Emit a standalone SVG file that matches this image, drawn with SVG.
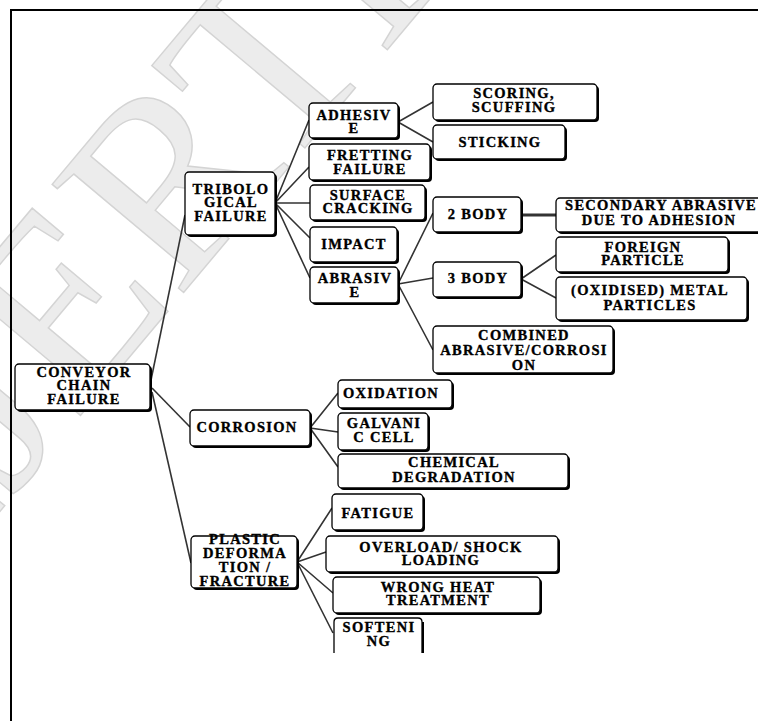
<svg xmlns="http://www.w3.org/2000/svg" width="758" height="721" viewBox="0 0 758 721">
<style>
.sh{fill:#000}
.bx{fill:#fff;stroke:#000;stroke-width:1.3}
.t{font-family:"Liberation Serif","Times New Roman",serif;font-weight:bold;font-size:14.5px;letter-spacing:1.3px;text-anchor:middle;fill:#000;stroke:#000;stroke-width:0.35}
.c{stroke:#333;stroke-width:1.6;fill:none}
.wm{font-family:"Liberation Serif",serif;font-size:260px;fill:#ececec;stroke:#d4d4d4;stroke-width:1.5}
</style>
<rect width="758" height="721" fill="#fff"/>
<g id="watermark">
<text class="wm" transform="translate(-45,565) rotate(-50)">IJERTIJERT</text>
</g>
<path d="M11,721 V10 H758" fill="none" stroke="#000" stroke-width="2"/>
<g id="connectors">
<path class="c" d="M151,380 L185,215"/>
<path class="c" d="M152,388 L190,427"/>
<path class="c" d="M152,392 L191,563"/>
<path class="c" d="M275,203 L309,120 M275,203 L309,167 M275,203 L310,203 M275,203 L310,238 M275,203 L310,278"/>
<path class="c" d="M398,122 L433,102 M398,122 L433,142"/>
<path class="c" d="M398,284 L433,213 M398,284 L433,278 M398,284 L433,350"/>
<path class="c" d="M521,215 L556,215" style="stroke-width:3"/>
<path class="c" d="M521,279 L556,255 M521,279 L556,298"/>
<path class="c" d="M310,428 L338,393 M310,428 L338,432 M310,428 L338,467"/>
<path class="c" d="M297,562 L332,508 M297,562 L326,552 M297,562 L333,593 M297,562 L333,633"/>
</g>
<g id="conveyor"><rect class="sh" x="17" y="366" width="135" height="46" rx="4"/><rect class="bx" x="15" y="364" width="135" height="46" rx="4"/>
<text class="t" x="84" y="377">CONVEYOR</text><text class="t" x="84" y="390">CHAIN</text><text class="t" x="84" y="404">FAILURE</text></g>
<g id="tribological"><rect class="sh" x="187" y="174" width="90" height="63" rx="4"/><rect class="bx" x="185" y="172" width="90" height="63" rx="4"/>
<text class="t" x="231" y="194">TRIBOLO</text><text class="t" x="231" y="207">GICAL</text><text class="t" x="231" y="221">FAILURE</text></g>
<g id="adhesive"><rect class="sh" x="311" y="105" width="89" height="35" rx="4"/><rect class="bx" x="309" y="103" width="89" height="35" rx="4"/>
<text class="t" x="354" y="120">ADHESIV</text><text class="t" x="354" y="133">E</text></g>
<g id="fretting"><rect class="sh" x="311" y="146" width="121" height="36" rx="4"/><rect class="bx" x="309" y="144" width="121" height="36" rx="4"/>
<text class="t" x="370" y="160">FRETTING</text><text class="t" x="370" y="174">FAILURE</text></g>
<g id="surface"><rect class="sh" x="312" y="187" width="115" height="35" rx="4"/><rect class="bx" x="310" y="185" width="115" height="35" rx="4"/>
<text class="t" x="368" y="200">SURFACE</text><text class="t" x="368" y="213">CRACKING</text></g>
<g id="impact"><rect class="sh" x="312" y="229" width="87" height="35" rx="4"/><rect class="bx" x="310" y="227" width="87" height="35" rx="4"/>
<text class="t" x="354" y="249">IMPACT</text></g>
<g id="abrasive"><rect class="sh" x="312" y="269" width="88" height="36" rx="4"/><rect class="bx" x="310" y="267" width="88" height="36" rx="4"/>
<text class="t" x="355" y="283">ABRASIV</text><text class="t" x="355" y="297">E</text></g>
<g id="scoring"><rect class="sh" x="435" y="86" width="164" height="36" rx="4"/><rect class="bx" x="433" y="84" width="164" height="36" rx="4"/>
<text class="t" x="514" y="98">SCORING,</text><text class="t" x="514" y="112">SCUFFING</text></g>
<g id="sticking"><rect class="sh" x="435" y="127" width="132" height="34" rx="4"/><rect class="bx" x="433" y="125" width="132" height="34" rx="4"/>
<text class="t" x="500" y="147">STICKING</text></g>
<g id="body2"><rect class="sh" x="435" y="199" width="88" height="35" rx="4"/><rect class="bx" x="433" y="197" width="88" height="35" rx="4"/>
<text class="t" x="478" y="219">2 BODY</text></g>
<g id="secondary"><rect class="sh" x="558" y="200" width="210" height="34" rx="4"/><rect class="bx" x="556" y="198" width="210" height="34" rx="4"/>
<text class="t" x="661" y="210">SECONDARY ABRASIVE</text><text class="t" x="659" y="225">DUE TO ADHESION</text></g>
<g id="foreign"><rect class="sh" x="558" y="239" width="172" height="35" rx="4"/><rect class="bx" x="556" y="237" width="172" height="35" rx="4"/>
<text class="t" x="643" y="252">FOREIGN</text><text class="t" x="643" y="265">PARTICLE</text></g>
<g id="oxidised"><rect class="sh" x="558" y="279" width="191" height="43" rx="4"/><rect class="bx" x="556" y="277" width="191" height="43" rx="4"/>
<text class="t" x="650" y="295">(OXIDISED) METAL</text><text class="t" x="650" y="310">PARTICLES</text></g>
<g id="body3"><rect class="sh" x="435" y="264" width="88" height="35" rx="4"/><rect class="bx" x="433" y="262" width="88" height="35" rx="4"/>
<text class="t" x="478" y="283">3 BODY</text></g>
<g id="combined"><rect class="sh" x="435" y="328" width="180" height="47" rx="4"/><rect class="bx" x="433" y="326" width="180" height="47" rx="4"/>
<text class="t" x="524" y="340">COMBINED</text><text class="t" x="524" y="355">ABRASIVE/CORROSI</text><text class="t" x="524" y="370">ON</text></g>
<g id="corrosion"><rect class="sh" x="192" y="412" width="120" height="36" rx="4"/><rect class="bx" x="190" y="410" width="120" height="36" rx="4"/>
<text class="t" x="247" y="432">CORROSION</text></g>
<g id="oxidation"><rect class="sh" x="340" y="382" width="114" height="28" rx="4"/><rect class="bx" x="338" y="380" width="114" height="28" rx="4"/>
<text class="t" x="391" y="398">OXIDATION</text></g>
<g id="galvanic"><rect class="sh" x="340" y="415" width="90" height="37" rx="4"/><rect class="bx" x="338" y="413" width="90" height="37" rx="4"/>
<text class="t" x="384" y="428">GALVANI</text><text class="t" x="384" y="442">C CELL</text></g>
<g id="chemical"><rect class="sh" x="340" y="456" width="230" height="34" rx="4"/><rect class="bx" x="338" y="454" width="230" height="34" rx="4"/>
<text class="t" x="454" y="467">CHEMICAL</text><text class="t" x="454" y="482">DEGRADATION</text></g>
<g id="plastic"><rect class="sh" x="193" y="538" width="106" height="52" rx="4"/><rect class="bx" x="191" y="536" width="106" height="52" rx="4"/>
<text class="t" x="245" y="544">PLASTIC</text><text class="t" x="245" y="558">DEFORMA</text><text class="t" x="245" y="572">TION /</text><text class="t" x="245" y="586">FRACTURE</text></g>
<g id="fatigue"><rect class="sh" x="334" y="496" width="91" height="36" rx="4"/><rect class="bx" x="332" y="494" width="91" height="36" rx="4"/>
<text class="t" x="378" y="518">FATIGUE</text></g>
<g id="overload"><rect class="sh" x="328" y="538" width="232" height="36" rx="4"/><rect class="bx" x="326" y="536" width="232" height="36" rx="4"/>
<text class="t" x="441" y="552">OVERLOAD/ SHOCK</text><text class="t" x="441" y="565">LOADING</text></g>
<g id="wrongheat"><rect class="sh" x="335" y="579" width="207" height="36" rx="4"/><rect class="bx" x="333" y="577" width="207" height="36" rx="4"/>
<text class="t" x="438" y="592">WRONG HEAT</text><text class="t" x="438" y="605">TREATMENT</text></g>
<g id="softening"><path d="M334,653 V622 Q334,618 338,618 H418 Q422,618 422,622 V653" fill="#fff" stroke="#000" stroke-width="1.3"/><path d="M423,622 V653" stroke="#000" stroke-width="2" fill="none"/>
<text class="t" x="379" y="632">SOFTENI</text><text class="t" x="379" y="646">NG</text></g>
</svg>
